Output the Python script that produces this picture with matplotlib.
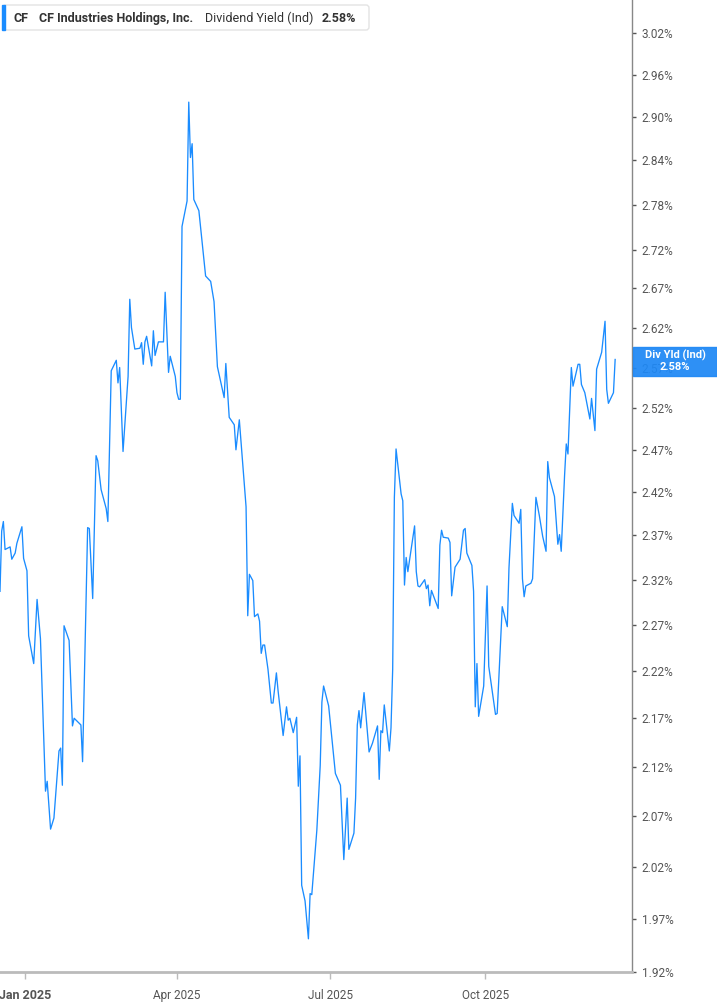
import numpy as np
import matplotlib
matplotlib.use("Agg")
import matplotlib.pyplot as plt
from matplotlib.patches import Rectangle, FancyBboxPatch

# CF Industries - dividend yield (indicated)
# day offsets are counted from 2025-01-01
days = [-15, -14, -13, -12, -9, -8, -6, -5, -2, -1,
        1, 2, 5, 7, 9, 12, 13, 15, 17, 20,
        21, 22, 23, 26, 28, 29, 33, 34, 37, 38,
        40, 42, 43, 45, 48, 49, 51, 54, 55, 56,
        58, 61, 62, 63, 65, 68, 69, 70, 71, 72,
        75, 76, 77, 79, 82, 83, 85, 86, 89, 90,
        91, 92, 93, 96, 97, 98, 99, 100, 103, 107,
        110, 112, 114, 118, 119, 121, 124, 125, 127, 131,
        132, 133, 135, 136, 138, 139, 140, 141, 142, 144,
        146, 147, 149, 150, 153, 155, 156, 157, 159, 161,
        162, 163, 164, 166, 168, 169, 170, 173, 175, 176,
        177, 180, 181, 184, 187, 189, 191, 192, 195, 196,
        197, 198, 199, 201, 204, 206, 209, 210, 211, 212,
        213, 216, 217, 218, 219, 220, 223, 224, 225, 226,
        227, 231, 232, 233, 234, 237, 238, 239, 240, 241,
        245, 246, 247, 248, 251, 252, 253, 255, 258, 260,
        261, 262, 265, 266, 267, 268, 269, 272, 274, 275,
        276, 279, 280, 283, 286, 287, 289, 290, 293, 294,
        295, 296, 297, 300, 301, 303, 305, 307, 309, 310,
        311, 314, 316, 317, 318, 320, 321, 322, 324, 325,
        328, 329, 330, 332, 335, 336, 338, 339, 342, 344,
        345, 346, 349, 350]
yield_pct = [2.307, 2.375, 2.386, 2.354, 2.357, 2.343, 2.350, 2.361, 2.380, 2.344,
             2.330, 2.258, 2.228, 2.298, 2.255, 2.095, 2.105, 2.057, 2.068, 2.136,
             2.139, 2.101, 2.269, 2.253, 2.162, 2.170, 2.163, 2.125, 2.379, 2.378,
             2.299, 2.463, 2.457, 2.423, 2.401, 2.386, 2.566, 2.579, 2.551, 2.570,
             2.468, 2.559, 2.656, 2.620, 2.593, 2.594, 2.601, 2.574, 2.602, 2.609,
             2.572, 2.616, 2.585, 2.602, 2.602, 2.665, 2.564, 2.584, 2.559, 2.539,
             2.531, 2.531, 2.751, 2.785, 2.921, 2.844, 2.863, 2.787, 2.772, 2.686,
             2.679, 2.653, 2.571, 2.533, 2.575, 2.509, 2.500, 2.470, 2.506, 2.403,
             2.280, 2.326, 2.319, 2.279, 2.282, 2.274, 2.239, 2.248, 2.248, 2.222,
             2.186, 2.186, 2.218, 2.199, 2.152, 2.182, 2.168, 2.170, 2.155, 2.171,
             2.100, 2.131, 2.002, 1.987, 1.951, 1.994, 1.993, 2.056, 2.121, 2.187,
             2.204, 2.183, 2.165, 2.113, 2.101, 2.027, 2.088, 2.037, 2.053, 2.088,
             2.163, 2.178, 2.160, 2.197, 2.135, 2.144, 2.162, 2.107, 2.157, 2.155,
             2.184, 2.136, 2.160, 2.222, 2.414, 2.471, 2.418, 2.410, 2.314, 2.345,
             2.329, 2.381, 2.329, 2.313, 2.312, 2.320, 2.310, 2.314, 2.291, 2.308,
             2.288, 2.359, 2.376, 2.368, 2.367, 2.362, 2.302, 2.334, 2.343, 2.376,
             2.378, 2.350, 2.336, 2.307, 2.182, 2.228, 2.172, 2.204, 2.313, 2.225,
             2.212, 2.174, 2.175, 2.290, 2.268, 2.333, 2.407, 2.393, 2.384, 2.400,
             2.321, 2.301, 2.313, 2.316, 2.321, 2.414, 2.393, 2.369, 2.352, 2.456,
             2.437, 2.415, 2.360, 2.371, 2.352, 2.440, 2.477, 2.465, 2.570, 2.547,
             2.574, 2.574, 2.549, 2.539, 2.507, 2.532, 2.493, 2.568, 2.589, 2.628,
             2.543, 2.526, 2.539, 2.580]

y_ticks = [1.92, 1.97, 2.02, 2.07, 2.12, 2.17, 2.22, 2.27, 2.32, 2.37, 2.42,
           2.47, 2.52, 2.57, 2.62, 2.67, 2.72, 2.78, 2.84, 2.90, 2.96, 3.02]
x_tick_dates = ["2025-01-01", "2025-04-01", "2025-07-01", "2025-10-01"]
x_tick_labels = ["Jan 2025", "Apr 2025", "Jul 2025", "Oct 2025"]

LINE = "#1a8cff"
FONT = ["Roboto", "DejaVu Sans"]
plt.rcParams["font.family"] = FONT

dates = np.datetime64("2025-01-01") + np.array(days).astype("timedelta64[D]")

W, H = 717, 1005
fig = plt.figure(figsize=(W / 100, H / 100), dpi=100)
ax = fig.add_axes([0, (H - 972) / H, 632 / W, 972 / H])

ax.plot(dates, yield_pct, color=LINE, lw=0.95)

ax.set_yscale("log")
ax.set_ylim(1.92, 3.0685)
ax.set_xlim(np.datetime64("2024-12-17"), np.datetime64("2025-12-27"))

ax.yaxis.tick_right()
ax.set_yticks(y_ticks)
ax.set_yticklabels(["%.2f%%" % v for v in y_ticks])
ax.yaxis.set_minor_locator(matplotlib.ticker.NullLocator())
ax.tick_params(axis="y", which="major", length=3, width=1, color="#555555",
               labelcolor="#555555", labelsize=8.5, pad=4)

ax.set_xticks([np.datetime64(d) for d in x_tick_dates])
ax.set_xticklabels(x_tick_labels)
ax.tick_params(axis="x", length=5, width=1, color="#bbbbbb",
               labelcolor="#555555", labelsize=8.5, pad=7)
ax.get_xticklabels()[0].set_fontweight("bold")
ax.get_xticklabels()[0].set_fontsize(9)

for s in ["top", "left"]:
    ax.spines[s].set_visible(False)
ax.spines["right"].set_color("#888888")
ax.spines["right"].set_linewidth(1.0)
ax.spines["bottom"].set_color("#bbbbbb")
ax.spines["bottom"].set_linewidth(2.0)

# overlay in pixel coordinates for the header box and the last-value tag
ov = fig.add_axes([0, 0, 1, 1], facecolor="none")
ov.set_xlim(0, W)
ov.set_ylim(H, 0)
ov.axis("off")

ov.add_patch(FancyBboxPatch((3, 5), 366, 25, boxstyle="round,pad=0,rounding_size=3",
                            fc="white", ec="#e3e3e3", lw=1))
ov.add_patch(Rectangle((2, 5), 3, 25, color=LINE))
ov.text(13, 18, "CF", fontsize=9, fontweight="bold", color="#333333", va="center")
ov.text(39, 18, "CF Industries Holdings, Inc.", fontsize=9, fontweight="bold",
        color="#333333", va="center")
ov.text(205, 18, "Dividend Yield (Ind)", fontsize=9, color="#333333", va="center")
ov.text(322, 18, "%.2f%%" % yield_pct[-1], fontsize=9, fontweight="bold",
        color="#333333", va="center")

# last-value tag, slightly see-through like the reference (2.57% shows behind)
ov.add_patch(Rectangle((633, 347), 84, 29, color="#1e88f5", alpha=0.93))
ov.text(675, 355, "Div Yld (Ind)", fontsize=8, fontweight="bold", color="white",
        ha="center", va="center")
ov.text(675, 367, "%.2f%%" % yield_pct[-1], fontsize=8, fontweight="bold",
        color="white", ha="center", va="center")

fig.savefig("out.png", dpi=100)
